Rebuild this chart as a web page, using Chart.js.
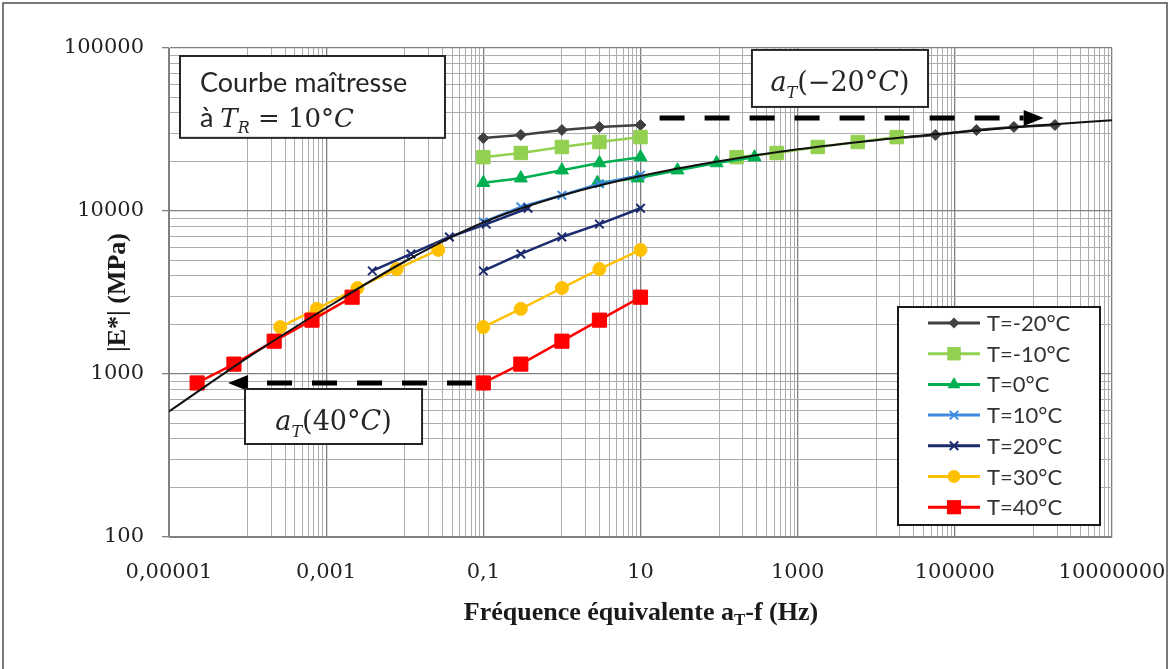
<!DOCTYPE html>
<html><head><meta charset="utf-8">
<script src="https://cdn.jsdelivr.net/npm/chart.js@4.4.1/dist/chart.umd.min.js"></script>
<style>
html,body{margin:0;padding:0;background:#fff;}
#wrap{position:relative;width:1171px;height:669px;overflow:hidden;}
canvas{display:block;}
</style></head><body>
<div id="wrap"><canvas id="c" width="1171" height="669"></canvas></div>
<script>
// ---------- DATA ----------
const xRaw = [0.1, 0.3, 1, 3, 10];
const eRawM20 = [28000, 29300, 31400, 32800, 33700];
const eRawM10 = [21400, 22700, 24700, 26500, 28400];
const eRaw0   = [14900, 15900, 17800, 19700, 21400];
const eRaw10  = [8570, 10600, 12500, 14700, 16600];
const eRaw20  = [4290, 5450, 6930, 8310, 10400];
const eRaw30  = [1940, 2510, 3370, 4400, 5770];
const eRaw40  = [881, 1150, 1590, 2140, 2960];

const xShiftM20 = [18800, 56500, 188000, 565000, 1880000];
const xShiftM10 = [167, 540, 1800, 5810, 18200];
const xShift0   = [2.83, 9.2, 29.6, 93, 283];
const xShift20  = [0.00386, 0.012, 0.037, 0.109, 0.37];
const xShift30  = [0.00026, 0.00076, 0.0025, 0.0079, 0.0267];
const xShift40  = [0.0000228, 0.000067, 0.000218, 0.00066, 0.00214];

const xMaster = [1e-5, 1e-4, 1e-3, 1e-2, 0.1, 1, 10, 100, 1e3, 1e4, 1e5, 1e6, 1e7];
const eMaster = [589, 1260, 2540, 4900, 8510, 12450, 16400, 20200, 23900, 27200, 30300, 33300, 36100];

const seriesLabels = ['T=-20°C', 'T=-10°C', 'T=0°C', 'T=10°C', 'T=20°C', 'T=30°C', 'T=40°C'];

const xTickValues = [1e-5, 1e-3, 1e-1, 1e1, 1e3, 1e5, 1e7];
const xTickLabels = ['0,00001', '0,001', '0,1', '10', '1000', '100000', '10000000'];
const yTickValues = [100, 1000, 10000, 100000];
const yTickLabels = ['100', '1000', '10000', '100000'];

// shift annotations (data coordinates)
const arrowM20 = {x1: 17.5, x2: 1.35e6, y: 37200};
const arrow40  = {x1: 0.0718, x2: 5.64e-5, y: 881};

// ---------- STYLES ----------
const styles = [
  {color: '#404040', shape: 'rectRot', r: 5.5},
  {color: '#92d050', shape: 'rect', r: 9.5},
  {color: '#00b050', shape: 'triangle', r: 7.5},
  {color: '#3d8ae0', shape: 'crossRot', r: 6},
  {color: '#1c2a6e', shape: 'crossRot', r: 6},
  {color: '#ffc000', shape: 'circle', r: 6.5},
  {color: '#ff0000', shape: 'rect', r: 10}
];
const rawE = [eRawM20, eRawM10, eRaw0, eRaw10, eRaw20, eRaw30, eRaw40];
const shiftX = [xShiftM20, xShiftM10, xShift0, null, xShift20, xShift30, xShift40];

const pts = (xs, ys) => xs.map((x, i) => ({x: x, y: ys[i]}));
const lg = Math.log10;
const near = (a, b) => Math.abs(lg(a) - lg(b)) < 1e-6;

// grid values
const xGrid = [];
for (let i = 0; i < xTickValues.length; i++) {
  xGrid.push(xTickValues[i]);
  if (i < xTickValues.length - 1) for (let j = 1; j <= 9; j++) xGrid.push(xTickValues[i] * 10 * j);
}
const yGrid = [];
for (let i = 0; i < yTickValues.length; i++) {
  yGrid.push(yTickValues[i]);
  if (i < yTickValues.length - 1) for (let j = 2; j <= 9; j++) yGrid.push(yTickValues[i] * j);
}
const isXMajor = v => xTickValues.some(t => near(t, v));
const isYMajor = v => yTickValues.some(t => near(t, v));

const MAJ = '#808080', MIN = '#adadad';

// ---------- DATASETS ----------
const datasets = [{
  label: 'master', data: pts(xMaster, eMaster), showLine: true,
  borderColor: '#111', borderWidth: 2, pointRadius: 0, cubicInterpolationMode: 'monotone', order: 0
}];
styles.forEach((s, i) => {
  const base = {
    showLine: true, borderColor: s.color, backgroundColor: s.color, borderWidth: 2.5,
    pointStyle: s.shape, pointRadius: s.r, pointBorderWidth: s.shape === 'crossRot' ? 2 : 1,
    pointBackgroundColor: s.color, pointBorderColor: s.color, order: 8 - i
  };
  datasets.push(Object.assign({label: seriesLabels[i], data: pts(xRaw, rawE[i])}, base));
  if (shiftX[i]) datasets.push(Object.assign({label: seriesLabels[i] + ' shift', data: pts(shiftX[i], rawE[i])}, base));
});

// ---------- drawing helpers ----------
function drawMarker(ctx, shape, x, y, r, color) {
  ctx.save();
  ctx.fillStyle = color; ctx.strokeStyle = color; ctx.lineWidth = 2;
  ctx.beginPath();
  if (shape === 'rect') {
    const s = r * Math.SQRT1_2; ctx.rect(x - s, y - s, 2 * s, 2 * s); ctx.fill();
  } else if (shape === 'rectRot') {
    ctx.moveTo(x, y - r); ctx.lineTo(x + r, y); ctx.lineTo(x, y + r); ctx.lineTo(x - r, y); ctx.closePath(); ctx.fill();
  } else if (shape === 'triangle') {
    ctx.moveTo(x, y - r); ctx.lineTo(x + r * 0.866, y + r * 0.5); ctx.lineTo(x - r * 0.866, y + r * 0.5); ctx.closePath(); ctx.fill();
  } else if (shape === 'circle') {
    ctx.arc(x, y, r, 0, Math.PI * 2); ctx.fill();
  } else if (shape === 'crossRot') {
    const d = r * 0.707;
    ctx.moveTo(x - d, y - d); ctx.lineTo(x + d, y + d); ctx.moveTo(x + d, y - d); ctx.lineTo(x - d, y + d); ctx.stroke();
  }
  ctx.restore();
}

// segments: [text, font, dy]
function drawRich(ctx, segs, x, y, align) {
  let w = 0;
  segs.forEach(s => { ctx.font = s[1]; w += ctx.measureText(s[0]).width; });
  let cx = align === 'center' ? x - w / 2 : x;
  ctx.textAlign = 'left'; ctx.textBaseline = 'alphabetic';
  segs.forEach(s => { ctx.font = s[1]; ctx.fillText(s[0], cx, y + (s[2] || 0)); cx += ctx.measureText(s[0]).width; });
}

function dashedArrow(ctx, x1, x2, y) {
  const dir = x2 > x1 ? 1 : -1;
  const headLen = 20, headHalf = 8;
  const base = x2 - dir * headLen;
  ctx.save();
  ctx.strokeStyle = '#000'; ctx.fillStyle = '#000'; ctx.lineWidth = 5;
  ctx.setLineDash([25, 20]);
  ctx.beginPath(); ctx.moveTo(x1, y); ctx.lineTo(base, y); ctx.stroke();
  ctx.setLineDash([]);
  ctx.beginPath(); ctx.moveTo(x2, y); ctx.lineTo(base, y - headHalf); ctx.lineTo(base, y + headHalf); ctx.closePath(); ctx.fill();
  ctx.restore();
}

function box(ctx, l, t, r, b) {
  ctx.save();
  ctx.fillStyle = '#fff'; ctx.fillRect(l, t, r - l, b - t);
  ctx.strokeStyle = '#262626'; ctx.lineWidth = 2; ctx.strokeRect(l, t, r - l, b - t);
  ctx.restore();
}

const SERIF = '"DejaVu Serif", serif';
const TITLE = '"Liberation Serif", serif';
const annot = {
  id: 'annot',
  afterDatasetsDraw(chart) {
    const ctx = chart.ctx, xs = chart.scales.x, ys = chart.scales.y;
    dashedArrow(ctx, xs.getPixelForValue(arrowM20.x1), xs.getPixelForValue(arrowM20.x2), ys.getPixelForValue(arrowM20.y));
    dashedArrow(ctx, xs.getPixelForValue(arrow40.x1), xs.getPixelForValue(arrow40.x2), ys.getPixelForValue(arrow40.y));
  },
  afterDraw(chart) {
    const ctx = chart.ctx, xs = chart.scales.x, ys = chart.scales.y, ca = chart.chartArea;
    const X = v => xs.getPixelForValue(v), Y = v => ys.getPixelForValue(v);
    ctx.save();
    // Courbe maîtresse box
    let l = X(1.38e-5), r = X(0.0325), t = Y(89300), b = Y(28100);
    box(ctx, l, t, r, b);
    ctx.fillStyle = '#262626';
    drawRich(ctx, [['Courbe maîtresse', '27px Lato']], l + 20, t + 36, 'left');
    drawRich(ctx, [['à ', '27px Lato'], ['T', 'italic 26px ' + SERIF], ['R', 'italic 16px ' + SERIF, 6],
      [' = 10°', '26px ' + SERIF], ['C', 'italic 26px ' + SERIF]], l + 20, t + 71, 'left');
    // aT(-20°C)
    l = X(262); r = X(45600); t = Y(97300); b = Y(43500);
    box(ctx, l, t, r, b);
    ctx.fillStyle = '#262626';
    drawRich(ctx, [['a', 'italic 27px ' + SERIF], ['T', 'italic 16px ' + SERIF, 7], ['(−20°', '27px ' + SERIF],
      ['C', 'italic 27px ' + SERIF], [')', '27px ' + SERIF]], (l + r) / 2, (t + b) / 2 + 13, 'center');
    // aT(40°C)
    l = X(9.27e-5); r = X(0.0166); t = Y(809); b = Y(372);
    box(ctx, l, t, r, b);
    ctx.fillStyle = '#262626';
    drawRich(ctx, [['a', 'italic 27px ' + SERIF], ['T', 'italic 16px ' + SERIF, 7], ['(40°', '27px ' + SERIF],
      ['C', 'italic 27px ' + SERIF], [')', '27px ' + SERIF]], (l + r) / 2, (t + b) / 2 + 13, 'center');

    // legend
    const lw = 202, lh = 218;
    const lr = ca.right - 12, lb = ca.bottom - 12, ll = lr - lw, lt = lb - lh;
    ctx.fillStyle = '#fff'; ctx.fillRect(ll, lt, lw, lh);
    ctx.strokeStyle = '#1a1a1a'; ctx.lineWidth = 2; ctx.strokeRect(ll, lt, lw, lh);
    styles.forEach((s, i) => {
      const yy = lt + 16 + i * 30.7;
      ctx.strokeStyle = s.color; ctx.lineWidth = 3;
      ctx.beginPath(); ctx.moveTo(ll + 30, yy); ctx.lineTo(ll + 82, yy); ctx.stroke();
      drawMarker(ctx, s.shape, ll + 56, yy, s.r, s.color);
      ctx.fillStyle = '#333'; ctx.font = '22px Lato'; ctx.textAlign = 'left'; ctx.textBaseline = 'middle';
      ctx.fillText(seriesLabels[i], ll + 89, yy + 1);
    });

    // axis titles
    ctx.fillStyle = '#1a1a1a';
    drawRich(ctx, [['Fréquence équivalente a', 'bold 26px ' + TITLE],
      ['T', 'bold 17px ' + TITLE, 5], ['-f (Hz)', 'bold 26px ' + TITLE]],
      641, 620, 'center');
    ctx.save();
    ctx.translate(118, (ca.top + ca.bottom) / 2);
    ctx.rotate(-Math.PI / 2);
    ctx.font = 'bold 26px ' + TITLE; ctx.textAlign = 'center'; ctx.textBaseline = 'middle';
    ctx.fillText('|E*| (MPa)', 0, 0);
    ctx.restore();

    // outer frame
    ctx.strokeStyle = '#4d4d4d'; ctx.lineWidth = 1.5;
    ctx.strokeRect(3, 3, 1164, 700);
    ctx.restore();
  }
};

new Chart(document.getElementById('c'), {
  type: 'scatter',
  data: {datasets: datasets},
  options: {
    responsive: false, animation: false, devicePixelRatio: 1,
    layout: {padding: {top: 48, right: 59, left: 0, bottom: 0}},
    plugins: {legend: {display: false}, tooltip: {enabled: false}},
    scales: {
      x: {
        type: 'logarithmic', min: 1e-5, max: 1e7,
        afterBuildTicks: s => { s.ticks = xGrid.map(v => ({value: v})); },
        afterFit: s => { s.height = 132; s.paddingLeft = 0; s.paddingRight = 0; },
        ticks: {
          autoSkip: false, maxRotation: 0, padding: 23, color: '#222',
          font: {family: '"DejaVu Serif", serif', size: 21},
          callback: v => { const k = xTickValues.findIndex(t => near(t, v)); return k >= 0 ? xTickLabels[k] : ''; }
        },
        grid: {
          drawTicks: false,
          color: c => (c.tick && isXMajor(c.tick.value)) ? MAJ : MIN,
          lineWidth: c => (c.tick && isXMajor(c.tick.value)) ? 1.3 : 1
        },
        border: {color: MAJ}
      },
      y: {
        type: 'logarithmic', min: 100, max: 100000,
        afterBuildTicks: s => { s.ticks = yGrid.map(v => ({value: v})); },
        afterFit: s => { s.width = 169; s.paddingTop = 0; s.paddingBottom = 0; },
        ticks: {
          autoSkip: false, padding: 18, color: '#222',
          font: {family: '"DejaVu Serif", serif', size: 21},
          callback: v => { const k = yTickValues.findIndex(t => near(t, v)); return k >= 0 ? yTickLabels[k] : ''; }
        },
        grid: {
          tickLength: 7,
          color: c => (c.tick && isYMajor(c.tick.value)) ? MAJ : MIN,
          tickColor: c => (c.tick && isYMajor(c.tick.value)) ? MAJ : 'rgba(0,0,0,0)',
          lineWidth: c => (c.tick && isYMajor(c.tick.value)) ? 1.3 : 1
        },
        border: {color: MAJ}
      }
    }
  },
  plugins: [annot]
});
</script>
</body></html>
